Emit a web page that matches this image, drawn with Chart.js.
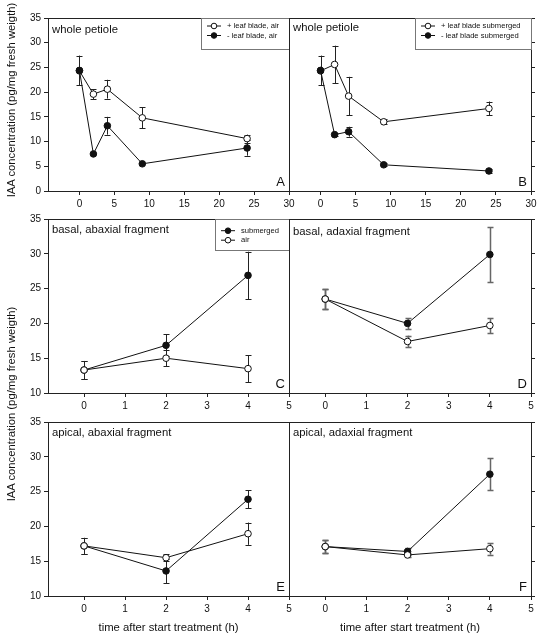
<!DOCTYPE html>
<html>
<head>
<meta charset="utf-8">
<script src="https://cdn.jsdelivr.net/npm/chart.js@4.4.0/dist/chart.umd.min.js"></script>
<style>
  body { margin: 0; background: #fff; }
  #fig { position: relative; width: 544px; height: 641px; overflow: hidden; background: #fff; }
  #fig canvas { position: absolute; left: 0; top: 0; }
  .ytitle {
    position: absolute; width: 260px; height: 14px; line-height: 14px;
    text-align: center; white-space: nowrap; color: #111;
    font: 11.3px "Liberation Sans", Arial, sans-serif;
    transform: rotate(-90deg);
  }
</style>
</head>
<body>
<div id="fig">
  <canvas id="pA" width="544" height="641"></canvas>
  <canvas id="pB" width="544" height="641"></canvas>
  <canvas id="pC" width="544" height="641"></canvas>
  <canvas id="pD" width="544" height="641"></canvas>
  <canvas id="pE" width="544" height="641"></canvas>
  <canvas id="pF" width="544" height="641"></canvas>
  <div class="ytitle" style="left:-118px; top:93px">IAA concentration (pg/mg fresh weigth)</div>
  <div class="ytitle" style="left:-118px; top:397px">IAA concentration (pg/mg fresh weigth)</div>
</div>
<script>
const FONT = "'Liberation Sans', Arial, sans-serif";
Chart.defaults.font.family = FONT;
Chart.defaults.color = "#111";

// whole petiole time course (h)
const petioleTimes = [0, 2, 4, 9, 24];
const petioleTicks = { min: -4.5, max: 30, step: 5 };
// fragments time course (h)
const fragTimes = [0, 2, 4];
const fragTicks = { min: -0.88, max: 5, step: 1 };

// A: air
const aPlus = [24.3, 19.6, 20.6, 14.8, 10.6];
const aPlusErr = [0, 1.0, 1.9, 2.1, 0.8];
const aMinus = [24.4, 7.5, 13.2, 5.5, 8.7];
const aMinusErr = [3.0, 0, 1.8, 0, 1.55];
// B: submerged
const bPlus = [24.3, 25.6, 19.2, 14.0, 16.7];
const bPlusErr = [0, 3.8, 3.9, 0.5, 1.4];
const bMinus = [24.4, 11.4, 12.0, 5.3, 4.05];
const bMinusErr = [3.0, 0.3, 1.0, 0.3, 0.4];
// C: basal, abaxial
const cSub = [13.3, 16.85, 26.9];
const cSubErr = [1.3, 1.6, 3.4];
const cAir = [13.3, 15.0, 13.5];
const cAirErr = [1.3, 1.15, 1.95];
// D: basal, adaxial
const dSub = [23.5, 20.0, 29.9];
const dSubErr = [1.4, 0.8, 4.0];
const dAir = [23.5, 17.4, 19.7];
const dAirErr = [1.4, 0.85, 1.1];
// E: apical, abaxial
const eSub = [17.2, 13.6, 23.9];
const eSubErr = [1.15, 1.75, 1.3];
const eAir = [17.2, 15.5, 18.95];
const eAirErr = [1.15, 0.5, 1.6];
// F: apical, adaxial
const fSub = [17.1, 16.4, 27.5];
const fSubErr = [0.95, 0.5, 2.3];
const fAir = [17.1, 15.9, 16.8];
const fAirErr = [0.95, 0.3, 0.85];

const labelsAir = ["+ leaf blade, air", "- leaf blade, air"];
const labelsSub = ["+ leaf blade submerged", "- leaf blade submerged"];
const labelsFrag = ["submerged", "air"];
const panelTitles = ["whole petiole", "whole petiole", "basal, abaxial fragment",
  "basal, adaxial fragment", "apical, abaxial fragment", "apical, adaxial fragment"];
const panelLetters = ["A", "B", "C", "D", "E", "F"];
const xTitle = "time after start treatment (h)";

// error bars, frame, panel text and boxed legend
const panelDeco = {
  id: "panelDeco",
  beforeDatasetsDraw(chart, args, o) {
    const { ctx } = chart;
    const xs = chart.scales.x, ys = chart.scales.y;
    ctx.save();
    ctx.strokeStyle = o.errColor;
    ctx.lineWidth = o.errWidth;
    chart.data.datasets.forEach(ds => {
      (ds.err || []).forEach((e, i) => {
        if (!e) return;
        const p = ds.data[i];
        const px = Math.round(xs.getPixelForValue(p.x)) + 0.5;
        const y1 = ys.getPixelForValue(p.y + e), y2 = ys.getPixelForValue(p.y - e);
        ctx.beginPath();
        ctx.moveTo(px, y1); ctx.lineTo(px, y2);
        ctx.moveTo(px - 3, Math.round(y1) + 0.5); ctx.lineTo(px + 3, Math.round(y1) + 0.5);
        ctx.moveTo(px - 3, Math.round(y2) + 0.5); ctx.lineTo(px + 3, Math.round(y2) + 0.5);
        ctx.stroke();
      });
    });
    ctx.restore();
  },
  afterDraw(chart, args, o) {
    const { ctx, chartArea: a } = chart;
    ctx.save();
    ctx.strokeStyle = "#222";
    ctx.lineWidth = 1;
    ctx.strokeRect(Math.round(a.left) + 0.5, Math.round(a.top) + 0.5,
      Math.round(a.right - a.left), Math.round(a.bottom - a.top));

    ctx.fillStyle = "#111";
    ctx.font = "11.3px " + FONT;
    ctx.textBaseline = "middle";
    ctx.textAlign = "left";
    ctx.fillText(o.title, a.left + 4, a.top + o.titleY);

    ctx.font = "13px " + FONT;
    ctx.textAlign = "right";
    ctx.textBaseline = "alphabetic";
    ctx.fillText(o.letter, a.right - 4, a.bottom - 5.5);

    if (o.legend) {
      const dss = chart.data.datasets;
      ctx.font = "7.6px " + FONT;
      let tw = 0;
      dss.forEach(d => { tw = Math.max(tw, ctx.measureText(d.label).width); });
      const w = Math.round(27 + tw + 9), h = 31;
      const x0 = Math.round(a.right) - w, y0 = Math.round(a.top);
      ctx.fillStyle = "#fff";
      ctx.fillRect(x0, y0, w, h);
      ctx.strokeStyle = "#777";
      ctx.strokeRect(x0 + 0.5, y0 + 0.5, w, h);
      dss.forEach((d, i) => {
        const y = y0 + o.legendRow + i * 9.5;
        ctx.strokeStyle = "#111";
        ctx.beginPath();
        ctx.moveTo(x0 + 6, y); ctx.lineTo(x0 + 20, y);
        ctx.stroke();
        ctx.beginPath();
        ctx.arc(x0 + 13, y, 2.8, 0, Math.PI * 2);
        ctx.fillStyle = d.pointBackgroundColor;
        ctx.fill();
        ctx.stroke();
        ctx.fillStyle = "#111";
        ctx.textAlign = "left";
        ctx.textBaseline = "middle";
        ctx.fillText(d.label, x0 + 26, y);
      });
    }
    ctx.restore();
  }
};

function series(label, xs, ys, err, filled, order) {
  return {
    label: label,
    data: xs.map((x, i) => ({ x: x, y: ys[i] })),
    err: err,
    order: order,
    borderColor: "#111",
    borderWidth: 1,
    pointRadius: 3.3,
    pointBorderWidth: 1,
    pointBorderColor: "#111",
    pointBackgroundColor: filled ? "#111" : "#fff",
    tension: 0
  };
}

function makePanel(id, cfg) {
  const r = cfg.rect; // left, top, right, bottom of plot area
  const onRight = cfg.side === "right";
  const xh = cfg.xTitle ? 45 : 24;
  const yw = onRight ? 8 : r[0];
  const grid = { display: true, drawOnChartArea: false, drawTicks: true, tickLength: 4, color: "#222" };
  new Chart(document.getElementById(id), {
    type: "line",
    data: { datasets: cfg.series },
    options: {
      responsive: false,
      animation: false,
      layout: {
        padding: {
          left: onRight ? r[0] : 0,
          top: r[1],
          right: onRight ? 544 - r[2] - yw : 544 - r[2],
          bottom: 641 - r[3] - xh
        }
      },
      plugins: {
        legend: { display: false },
        tooltip: { enabled: false },
        panelDeco: {
          title: cfg.title, titleY: cfg.titleY, letter: cfg.letter,
          legend: !!cfg.legend, legendRow: cfg.legendRow || 8,
          errColor: cfg.errColor || "#222", errWidth: cfg.errWidth || 1
        }
      },
      scales: {
        x: {
          type: "linear",
          min: cfg.xt.min, max: cfg.xt.max,
          afterFit: s => { s.height = xh; },
          ticks: { stepSize: cfg.xt.step, includeBounds: false, padding: 3, maxRotation: 0, font: { size: 10 } },
          grid: grid,
          border: { display: false },
          title: cfg.xTitle
            ? { display: true, text: cfg.xTitle, font: { size: 11.3 }, padding: { top: 0, bottom: 6 } }
            : { display: false }
        },
        y: {
          position: onRight ? "right" : "left",
          min: cfg.yMin, max: 35,
          afterFit: s => { s.width = yw; },
          ticks: {
            stepSize: 5, padding: 3, font: { size: 10 },
            callback: onRight ? () => "" : v => v
          },
          grid: grid,
          border: { display: false }
        }
      }
    },
    plugins: [panelDeco]
  });
}

const L = 48, M = 289, R = 531;
const rowTop = [18, 191], rowMid = [219, 393], rowBot = [422, 596];

makePanel("pA", {
  rect: [L, rowTop[0], M, rowTop[1]], side: "left", xt: petioleTicks, yMin: 0,
  title: panelTitles[0], titleY: 12, letter: panelLetters[0], legend: true, legendRow: 8,
  series: [
    series(labelsAir[0], petioleTimes, aPlus, aPlusErr, false, 1),
    series(labelsAir[1], petioleTimes, aMinus, aMinusErr, true, 0)
  ]
});
makePanel("pB", {
  rect: [M, rowTop[0], R, rowTop[1]], side: "right", xt: petioleTicks, yMin: 0,
  title: panelTitles[1], titleY: 10, letter: panelLetters[1], legend: true, legendRow: 8,
  series: [
    series(labelsSub[0], petioleTimes, bPlus, bPlusErr, false, 1),
    series(labelsSub[1], petioleTimes, bMinus, bMinusErr, true, 0)
  ]
});
makePanel("pC", {
  rect: [L, rowMid[0], M, rowMid[1]], side: "left", xt: fragTicks, yMin: 10,
  title: panelTitles[2], titleY: 10.5, letter: panelLetters[2], legend: true, legendRow: 11.7,
  series: [
    series(labelsFrag[0], fragTimes, cSub, cSubErr, true, 1),
    series(labelsFrag[1], fragTimes, cAir, cAirErr, false, 0)
  ]
});
makePanel("pD", {
  rect: [M, rowMid[0], R, rowMid[1]], side: "right", xt: fragTicks, yMin: 10,
  title: panelTitles[3], titleY: 12.5, letter: panelLetters[3], errColor: "#666", errWidth: 1.5,
  series: [
    series(labelsFrag[0], fragTimes, dSub, dSubErr, true, 1),
    series(labelsFrag[1], fragTimes, dAir, dAirErr, false, 0)
  ]
});
makePanel("pE", {
  rect: [L, rowBot[0], M, rowBot[1]], side: "left", xt: fragTicks, yMin: 10, xTitle: xTitle,
  title: panelTitles[4], titleY: 10.5, letter: panelLetters[4],
  series: [
    series(labelsFrag[0], fragTimes, eSub, eSubErr, true, 1),
    series(labelsFrag[1], fragTimes, eAir, eAirErr, false, 0)
  ]
});
makePanel("pF", {
  rect: [M, rowBot[0], R, rowBot[1]], side: "right", xt: fragTicks, yMin: 10, xTitle: xTitle,
  title: panelTitles[5], titleY: 10.5, letter: panelLetters[5], errColor: "#666", errWidth: 1.5,
  series: [
    series(labelsFrag[0], fragTimes, fSub, fSubErr, true, 1),
    series(labelsFrag[1], fragTimes, fAir, fAirErr, false, 0)
  ]
});
</script>
</body>
</html>
